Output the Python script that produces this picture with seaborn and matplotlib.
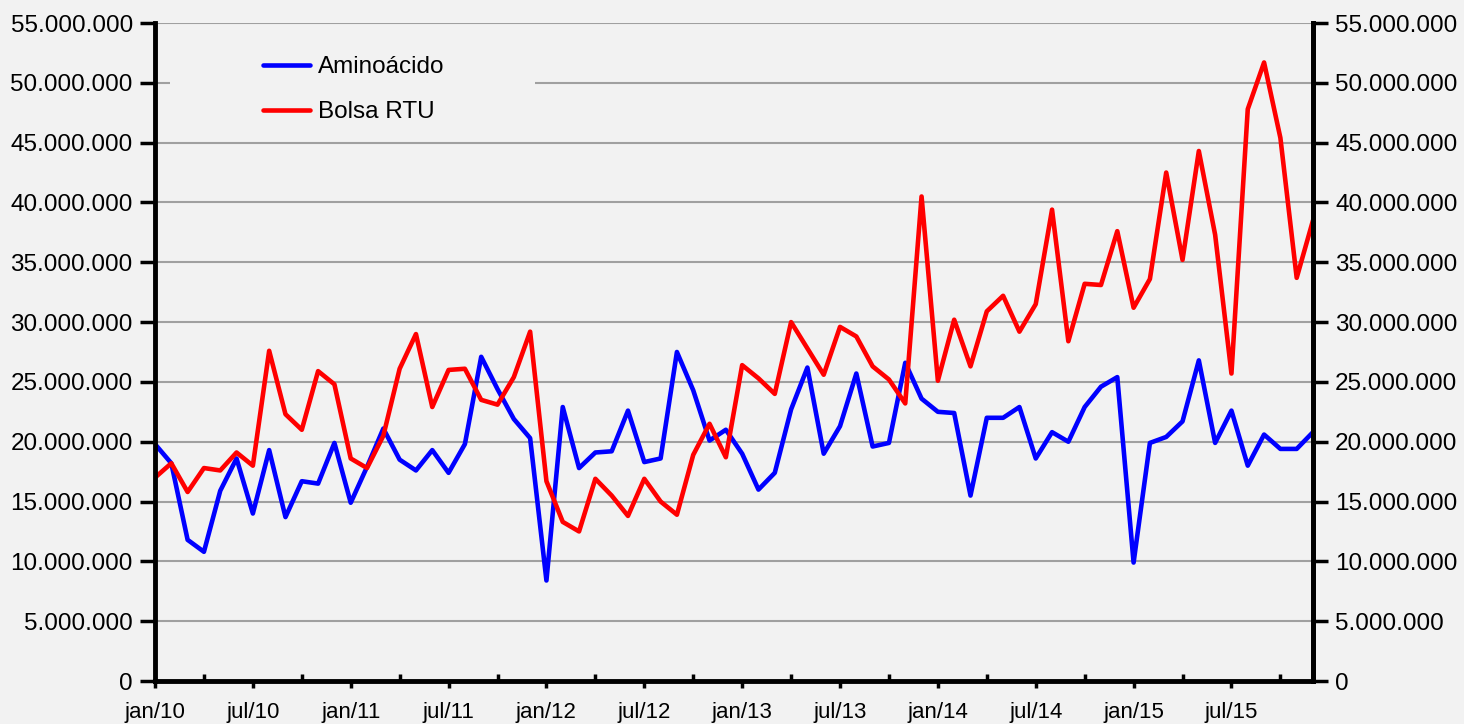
import matplotlib
matplotlib.use("Agg")
import matplotlib.pyplot as plt
import matplotlib.ticker as mticker
from matplotlib.patches import Rectangle
from matplotlib.lines import Line2D
import seaborn as sns
import pandas as pd

# ---- data (values in millions) ----
years = ["10", "11", "12", "13", "14", "15"]
month_names = ["jan", "fev", "mar", "abr", "mai", "jun",
               "jul", "ago", "set", "out", "nov", "dez"]

aminoacido = [19.8, 18.2, 11.8, 10.8, 15.9, 18.6, 14.0, 19.3, 13.7, 16.7, 16.5, 19.9,
              14.9, 17.9, 21.1, 18.5, 17.6, 19.3, 17.4, 19.8, 27.1, 24.4, 21.9, 20.3,
              8.4, 22.9, 17.8, 19.1, 19.2, 22.6, 18.3, 18.6, 27.5, 24.3, 20.1, 21.0,
              19.0, 16.0, 17.4, 22.7, 26.2, 19.0, 21.3, 25.7, 19.6, 19.9, 26.6, 23.6,
              22.5, 22.4, 15.5, 22.0, 22.0, 22.9, 18.6, 20.8, 20.0, 22.9, 24.6, 25.4,
              9.9, 19.9, 20.4, 21.7, 26.8, 19.9, 22.6, 18.0, 20.6, 19.4, 19.4, 20.8]

bolsa_rtu = [17.0, 18.2, 15.8, 17.8, 17.6, 19.1, 18.0, 27.6, 22.3, 21.0, 25.9, 24.8,
             18.6, 17.8, 20.5, 26.1, 29.0, 22.9, 26.0, 26.1, 23.5, 23.1, 25.4, 29.2,
             16.7, 13.3, 12.5, 16.9, 15.5, 13.8, 16.9, 15.0, 13.9, 18.9, 21.5, 18.7,
             26.4, 25.3, 24.0, 30.0, 27.8, 25.6, 29.6, 28.8, 26.3, 25.2, 23.2, 40.5,
             25.1, 30.2, 26.3, 30.9, 32.2, 29.2, 31.5, 39.4, 28.4, 33.2, 33.1, 37.6,
             31.2, 33.6, 42.5, 35.2, 44.3, 37.3, 25.7, 47.8, 51.7, 45.4, 33.7, 38.5]

series_names = ["Aminoácido", "Bolsa RTU"]
colors = ["#0000ff", "#ff0000"]
SCALE = 1_000_000

labels = [f"{m}/{y}" for y in years for m in month_names]
n = len(labels)
df = pd.DataFrame({
    "idx": list(range(n)) * 2,
    "valor": [v * SCALE for v in aminoacido + bolsa_rtu],
    "serie": [series_names[0]] * n + [series_names[1]] * n,
})

# ---- style ----
sns.set_theme(style="white")
plt.rcParams["font.family"] = ["Liberation Sans", "DejaVu Sans"]
plt.rcParams["text.color"] = "black"
BG = "#f2f2f2"
LW = 3.3

fig = plt.figure(figsize=(14.64, 7.24), dpi=100, facecolor=BG)
ax = fig.add_axes([155 / 1464, 43 / 724, 1158 / 1464, 658 / 724])
ax.set_facecolor(BG)

sns.lineplot(data=df, x="idx", y="valor", hue="serie", palette=colors,
             linewidth=LW, ax=ax, legend=False, sort=False)

ax.set_xlim(0, n - 1)
ax.set_ylim(0, 55 * SCALE)

fmt = mticker.FuncFormatter(lambda v, p: f"{int(round(v)):,}".replace(",", "."))
ax.yaxis.set_major_locator(mticker.MultipleLocator(5 * SCALE))
ax.yaxis.set_major_formatter(fmt)

ax.set_xticks(range(0, n, 6))
ax.set_xticklabels([labels[i] for i in range(0, n, 6)],
                   family=["Liberation Sans Narrow", "Liberation Sans", "DejaVu Sans"],
                   fontsize=16, color="black")
ax.set_xticks(range(3, n, 6), minor=True)

ax.grid(axis="y", color="#a0a0a0", linewidth=1.5)
ax.set_axisbelow(True)
ax.set_xlabel("")
ax.set_ylabel("")

for s in ["left", "bottom", "right"]:
    ax.spines[s].set_visible(True)
    ax.spines[s].set_color("black")
    ax.spines[s].set_linewidth(3.5)
ax.spines["top"].set_visible(False)

ax.tick_params(axis="y", which="major", direction="out", length=11, width=2.5,
               labelsize=17.5, pad=5, colors="black", left=True)
ax.tick_params(axis="x", which="major", direction="out", length=5, width=2.5,
               pad=10, colors="black", bottom=True)
ax.tick_params(axis="x", which="minor", direction="in", length=5, width=2.5,
               colors="black", bottom=True)

# right axis mirroring left
ax2 = ax.twinx()
ax2.set_ylim(ax.get_ylim())
ax2.yaxis.set_major_locator(mticker.MultipleLocator(5 * SCALE))
ax2.yaxis.set_major_formatter(fmt)
ax2.tick_params(axis="y", which="major", direction="out", length=11, width=2.5,
                labelsize=17.5, pad=5, colors="black", right=True)
for s in ["left", "top", "bottom"]:
    ax2.spines[s].set_visible(False)
ax2.spines["right"].set_color("black")
ax2.spines["right"].set_linewidth(3.5)
ax2.grid(False)

# legend background box hiding grid
ax.add_patch(Rectangle((15 / 1158, (681 - 128) / 658), 365 / 1158, 93 / 658,
                       transform=ax.transAxes, facecolor=BG, edgecolor="none",
                       zorder=1.2))
handles = [Line2D([], [], color=c, linewidth=LW) for c in colors]
leg = ax.legend(handles, series_names, loc="upper left",
                bbox_to_anchor=((263 - 155) / 1158, (681 - 56) / 658),
                frameon=False, fontsize=17.5, handlelength=1.93, handletextpad=0.33,
                labelspacing=0.95, borderpad=0, borderaxespad=0)
for t in leg.get_texts():
    t.set_color("black")

fig.savefig("out.png", dpi=100, facecolor=BG)
